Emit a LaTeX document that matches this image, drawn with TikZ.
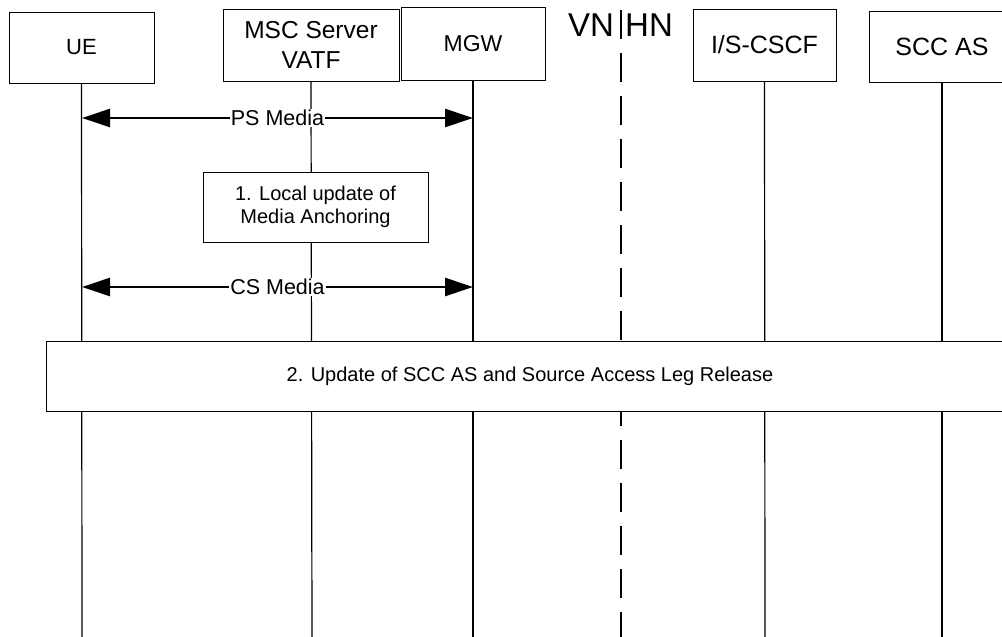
\documentclass[tikz,border=0pt]{standalone}
\usepackage{fontspec}
\setmainfont{Liberation Sans}
\usetikzlibrary{arrows.meta}
\tikzset{
  entity/.style={draw=black, line width=1pt, fill=white, align=center, inner sep=0pt},
  life/.style={line width=1.2pt},
  border/.style={line width=1.2pt, dash pattern=on 29pt off 14pt},
  stepbox/.style={draw=black, line width=1pt, fill=white, align=center, inner sep=0pt},
  media/.style={line width=2.6pt, {Triangle[length=28pt,width=18pt]}-{Triangle[length=28pt,width=18pt]}},
  medialabel/.style={fill=white, inner sep=1pt, font=\fontsize{21.5}{25}\selectfont}
}
\begin{document}
\begin{tikzpicture}[x=1pt,y=-1pt]
\useasboundingbox (0,0) rectangle (1002,637);
% lifeline ends
\coordinate (ueEnd) at (82,637);
\coordinate (mscEnd) at (312,637);
\coordinate (mgwEnd) at (473,637);
\coordinate (vnTop) at (621,10);
\coordinate (vnEnd) at (621,637);
\coordinate (cscfEnd) at (765,637);
\coordinate (sccEnd) at (942,637);
% header boxes
\node[entity, minimum width=145pt, minimum height=71pt, font=\fontsize{22}{26}\selectfont] (ue) at (81.5,47.5) {UE};
\node[entity, minimum width=176pt, minimum height=72pt, font=\fontsize{24.5}{30}\selectfont] (msc) at (311,45) {MSC Server\\VATF};
\node[entity, minimum width=144pt, minimum height=73pt, font=\fontsize{23}{27}\selectfont] (mgw) at (473,43.5) {MGW};
\node[entity, minimum width=143pt, minimum height=72pt, font=\fontsize{25}{29}\selectfont] (cscf) at (764.5,45) {I/S-CSCF};
\node[entity, minimum width=146pt, minimum height=71pt, font=\fontsize{25}{29}\selectfont] (scc) at (942,46.5) {SCC AS};
\node[font=\fontsize{33}{37}\selectfont, inner sep=0pt] (vn) at (591,25) {VN};
\node[font=\fontsize{33}{37}\selectfont, inner sep=0pt] (hn) at (649,25) {HN};
% lifelines
\draw[life] (ue.south) -- (ueEnd);
\draw[life] (msc.south) -- (mscEnd);
\draw[life] (mgw.south) -- (mgwEnd);
\draw[life] (cscf.south) -- (cscfEnd);
\draw[life] (scc.south) -- (sccEnd);
\draw[border] (vnTop) -- (vnEnd);
% step boxes
\node[stepbox, minimum width=225pt, minimum height=70pt, font=\fontsize{20}{23}\selectfont] (s1) at (315.5,207) {1. Local update of\\Media Anchoring};
\node[stepbox, minimum width=968pt, minimum height=70pt, font=\fontsize{20}{24}\selectfont] (s2) at (530,376) {2. Update of SCC AS and Source Access Leg Release};
% media arrows
\coordinate (psL) at (82,118);
\coordinate (psR) at (473,118);
\coordinate (csL) at (82,287);
\coordinate (csR) at (473,287);
\draw[media] (psL) -- node[medialabel] {PS Media} (psR);
\draw[media] (csL) -- node[medialabel] {CS Media} (csR);
\end{tikzpicture}
\end{document}
